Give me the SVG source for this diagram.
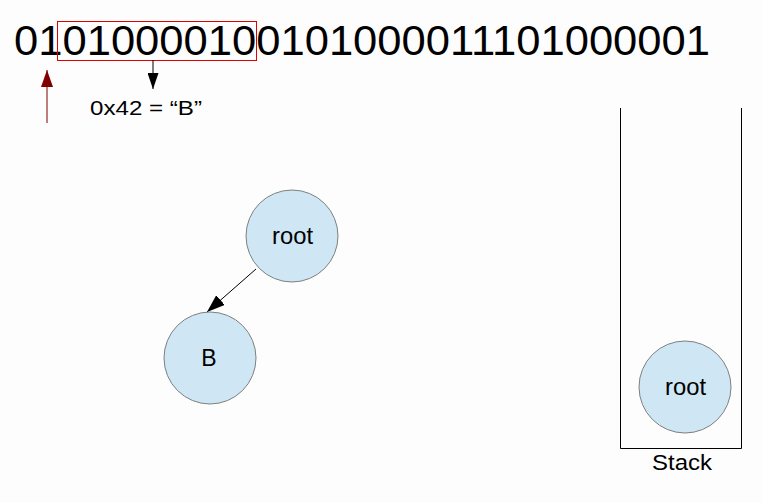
<svg xmlns="http://www.w3.org/2000/svg" width="762" height="503" viewBox="0 0 762 503">
  <style>
    text { font-family: "Liberation Sans", Arial, sans-serif; fill: #000; }
    .node circle { fill: #cfe7f5; stroke: #7f7f7f; stroke-width: 1; }
    .label { font-size: 23px; text-anchor: middle; }
    .edge { stroke: #000; stroke-width: 1; fill: none; }
  </style>
  <defs>
    <marker id="arrowBlack" viewBox="0 0 18 13" refX="18" refY="6.5" markerWidth="18" markerHeight="13" markerUnits="userSpaceOnUse" orient="auto">
      <path d="M0,0 L18,6.5 L0,13 Z" fill="#000"/>
    </marker>
    <marker id="arrowRed" viewBox="0 0 17 12" refX="17" refY="6" markerWidth="17" markerHeight="12" markerUnits="userSpaceOnUse" orient="auto">
      <path d="M0,0 L17,6 L0,12 Z" fill="#800000"/>
    </marker>
    <marker id="arrowDown" viewBox="0 0 16 11" refX="16" refY="5.5" markerWidth="16" markerHeight="11" markerUnits="userSpaceOnUse" orient="auto">
      <path d="M0,0 L16,5.5 L0,11 Z" fill="#000"/>
    </marker>
  </defs>

  <rect width="762" height="503" fill="#fdfdfd"/>

  <!-- bit stream -->
  <g id="bitstream">
    <text x="14" y="55" font-size="43" textLength="696" lengthAdjust="spacingAndGlyphs">01010000100101000011101000001</text>
    <rect x="57.5" y="21.5" width="199" height="39" fill="none" stroke="#e00000" stroke-width="1"/>
  </g>

  <!-- read position pointer -->
  <g id="pointer">
    <line x1="47" y1="123" x2="47" y2="70" stroke="#800000" stroke-width="1" marker-end="url(#arrowRed)"/>
  </g>

  <!-- decoded byte -->
  <g id="decoded">
    <line x1="153" y1="60" x2="153" y2="89" class="edge" marker-end="url(#arrowDown)"/>
    <text x="90" y="115" font-size="21" textLength="112" lengthAdjust="spacingAndGlyphs">0x42 = “B”</text>
  </g>

  <!-- tree -->
  <g id="connectors">
    <line x1="256" y1="269" x2="207" y2="312" class="edge" marker-end="url(#arrowBlack)"/>
  </g>
  <g id="node-root" class="node">
    <circle cx="292" cy="236" r="46"/>
    <text class="label" x="292.5" y="244" textLength="41" lengthAdjust="spacingAndGlyphs">root</text>
  </g>
  <g id="node-B" class="node">
    <circle cx="210" cy="358" r="46"/>
    <text class="label" x="209" y="366">B</text>
  </g>

  <!-- stack -->
  <g id="stack">
    <path d="M620.5,108 V448.5 H741.5 V108" fill="none" stroke="#000" stroke-width="1"/>
    <text x="682" y="470" font-size="22" text-anchor="middle" textLength="60" lengthAdjust="spacingAndGlyphs">Stack</text>
  </g>
  <g id="stack-root" class="node">
    <circle cx="685" cy="387" r="46"/>
    <text class="label" x="685.5" y="395" textLength="41" lengthAdjust="spacingAndGlyphs">root</text>
  </g>
</svg>
